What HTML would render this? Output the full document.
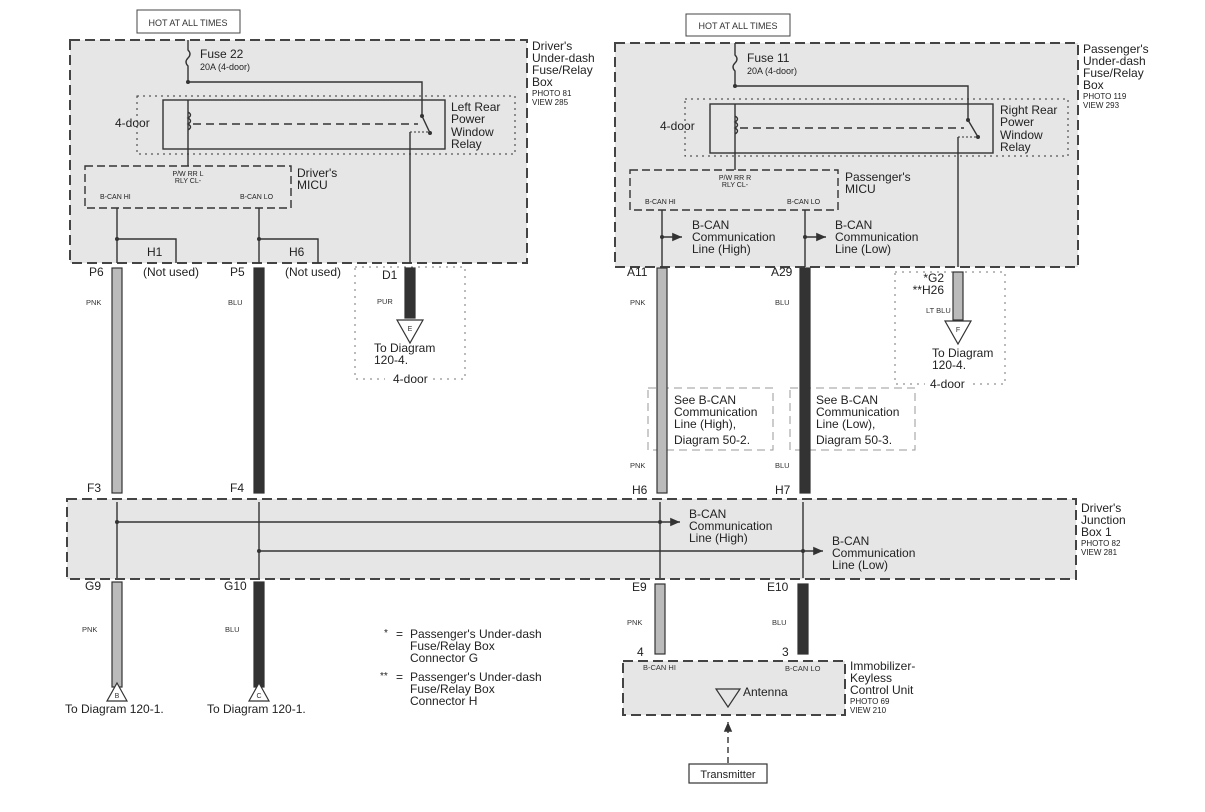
<!DOCTYPE html>
<html><head><meta charset="utf-8"><style>
html,body{margin:0;padding:0;background:#fff;}
svg{display:block;font-family:"Liberation Sans",sans-serif;}
</style></head><body>
<svg width="1205" height="812" viewBox="0 0 1205 812" xmlns="http://www.w3.org/2000/svg">
<defs>
<marker id="af" markerWidth="8" markerHeight="8" refX="7" refY="4" orient="auto"><path d="M0,1 L7,4 L0,7 Z" fill="#333"/></marker>
</defs>
<rect width="1205" height="812" fill="#fff"/>
<rect x="70" y="40" width="457" height="223" fill="#e6e6e6" stroke="#444" stroke-width="2" stroke-dasharray="10,5"/>
<rect x="615" y="43" width="463" height="224" fill="#e6e6e6" stroke="#444" stroke-width="2" stroke-dasharray="10,5"/>
<rect x="67" y="499" width="1009" height="80" fill="#e6e6e6" stroke="#444" stroke-width="2" stroke-dasharray="10,5"/>
<rect x="623" y="661" width="222" height="54" fill="#e6e6e6" stroke="#444" stroke-width="2" stroke-dasharray="10,5"/>
<rect x="137" y="10" width="103" height="23" fill="#fff" stroke="#444"/>
<text x="188" y="26" font-size="9" text-anchor="middle" fill="#333">HOT AT ALL TIMES</text>
<rect x="686" y="14" width="104" height="22" fill="#fff" stroke="#444"/>
<text x="738" y="29" font-size="9" text-anchor="middle" fill="#333">HOT AT ALL TIMES</text>
<g stroke="#333" stroke-width="1.4" fill="none">
<path d="M188,40 V50 q4,4 0,8 q-4,4 0,8 V82 H422 V100"/>
<rect x="163" y="100" width="282" height="49"/>
<rect x="137" y="96" width="378" height="58" stroke-dasharray="2,4" stroke-width="1"/>
<path d="M188,100 V149 M188,112 q5,3 0,6 q5,3 0,6 q5,3 0,6"/>
<path d="M193,124 H418" stroke-dasharray="8,5"/>
<path d="M422,100 V116 L430,133"/>
<path d="M410,132 H430" stroke-dasharray="2,2" stroke-width="1"/>
<path d="M410,132 V263 M188,149 V166"/>
<rect x="85" y="166" width="206" height="42" stroke-dasharray="8,4"/>
<path d="M117,208 V263 M117,239 H176 V263 M259,208 V263 M259,239 H318 V263"/>
<path d="M735,43 V55 q4,4 0,8 q-4,4 0,8 V86 H968 V104"/>
<rect x="710" y="104" width="283" height="49"/>
<rect x="685" y="99" width="383" height="57" stroke-dasharray="2,4" stroke-width="1"/>
<path d="M735,104 V153 M735,116 q5,3 0,6 q5,3 0,6 q5,3 0,6"/>
<path d="M740,128 H964" stroke-dasharray="8,5"/>
<path d="M968,104 V120 L978,137"/>
<path d="M958,137 H978" stroke-dasharray="2,2" stroke-width="1"/>
<path d="M958,137 V267 M735,153 V170"/>
<rect x="630" y="170" width="208" height="40" stroke-dasharray="8,4"/>
<path d="M662,210 V267 M805,210 V267"/>
<path d="M662,237 H682" marker-end="url(#af)"/>
<path d="M805,237 H826" marker-end="url(#af)"/>
<path d="M117,502 V578 M259,502 V578 M660,502 V578 M803,502 V578"/>
<path d="M117,522 H680" marker-end="url(#af)"/>
<path d="M259,551 H823" marker-end="url(#af)"/>
<rect x="355" y="267" width="110" height="112" stroke="#777" stroke-dasharray="2,5" stroke-width="1"/>
<rect x="895" y="272" width="110" height="112" stroke="#777" stroke-dasharray="2,5" stroke-width="1"/>
<rect x="648" y="388" width="125" height="62" stroke="#999" stroke-dasharray="8,5" stroke-width="1"/>
<rect x="790" y="388" width="125" height="62" stroke="#999" stroke-dasharray="8,5" stroke-width="1"/>
<path d="M728,763 V722" stroke-dasharray="6,4" marker-end="url(#af)"/>
</g>
<g fill="#333"><circle cx="188" cy="82" r="2"/><circle cx="117" cy="239" r="2"/><circle cx="259" cy="239" r="2"/><circle cx="735" cy="86" r="2"/><circle cx="662" cy="237" r="2"/><circle cx="805" cy="237" r="2"/><circle cx="117" cy="522" r="2"/><circle cx="259" cy="551" r="2"/><circle cx="660" cy="522" r="2"/><circle cx="803" cy="551" r="2"/><circle cx="422" cy="116" r="2"/><circle cx="430" cy="133" r="2"/><circle cx="968" cy="120" r="2"/><circle cx="978" cy="137" r="2"/></g>
<rect x="385" y="373" width="45" height="12" fill="#fff"/>
<rect x="925" y="377" width="45" height="12" fill="#fff"/>
<g stroke="#333" stroke-width="1.2">
<rect x="112" y="268" width="10" height="225" fill="#bbb"/>
<rect x="254" y="268" width="10" height="225" fill="#333"/>
<rect x="405" y="268" width="10" height="50" fill="#333"/>
<rect x="657" y="268" width="10" height="225" fill="#bbb"/>
<rect x="800" y="268" width="10" height="225" fill="#333"/>
<rect x="953" y="272" width="10" height="48" fill="#bbb"/>
<rect x="112" y="582" width="10" height="105" fill="#bbb"/>
<rect x="254" y="582" width="10" height="105" fill="#333"/>
<rect x="655" y="584" width="10" height="70" fill="#bbb"/>
<rect x="798" y="584" width="10" height="70" fill="#333"/>
<path d="M397,320 H423 L410,343 Z" fill="#fff"/>
<path d="M945,321 H971 L958,344 Z" fill="#fff"/>
<path d="M117,683 L127,701 H107 Z" fill="#fff"/>
<path d="M259,683 L269,701 H249 Z" fill="#fff"/>
<path d="M716,689 H740 L728,707 Z" fill="none"/>
<rect x="689" y="764" width="78" height="19" fill="#fff"/>
</g>
<g font-size="7" fill="#333" text-anchor="middle">
<text x="410" y="331">E</text><text x="958" y="332">F</text><text x="117" y="698">B</text><text x="259" y="698">C</text>
</g>
<g fill="#222" font-size="12">
<text x="200" y="58">Fuse 22</text><text x="200" y="70" font-size="9">20A (4-door)</text>
<text x="747" y="62">Fuse 11</text><text x="747" y="74" font-size="9">20A (4-door)</text>
<text x="115" y="127">4-door</text><text x="660" y="130">4-door</text>
<text x="451" y="111">Left Rear</text><text x="451" y="123">Power</text><text x="451" y="136">Window</text><text x="451" y="148">Relay</text>
<text x="1000" y="114">Right Rear</text><text x="1000" y="126">Power</text><text x="1000" y="139">Window</text><text x="1000" y="151">Relay</text>
<text x="532" y="50">Driver's</text><text x="532" y="62">Under-dash</text><text x="532" y="74">Fuse/Relay</text><text x="532" y="86">Box</text>
<text x="532" y="96" font-size="8">PHOTO 81</text><text x="532" y="105" font-size="8">VIEW 285</text>
<text x="1083" y="53">Passenger's</text><text x="1083" y="65">Under-dash</text><text x="1083" y="77">Fuse/Relay</text><text x="1083" y="89">Box</text>
<text x="1083" y="99" font-size="8">PHOTO 119</text><text x="1083" y="108" font-size="8">VIEW 293</text>
<text x="297" y="177">Driver's</text><text x="297" y="189">MICU</text>
<text x="845" y="181">Passenger's</text><text x="845" y="193">MICU</text>
<text x="188" y="176" font-size="7" text-anchor="middle">P/W RR L</text><text x="188" y="183" font-size="7" text-anchor="middle">RLY CL-</text>
<text x="735" y="180" font-size="7" text-anchor="middle">P/W RR R</text><text x="735" y="187" font-size="7" text-anchor="middle">RLY CL-</text>
<text x="100" y="199" font-size="7">B-CAN HI</text><text x="240" y="199" font-size="7">B-CAN LO</text>
<text x="645" y="204" font-size="7">B-CAN HI</text><text x="787" y="204" font-size="7">B-CAN LO</text>
<text x="692" y="229">B-CAN</text><text x="692" y="241">Communication</text><text x="692" y="253">Line (High)</text>
<text x="835" y="229">B-CAN</text><text x="835" y="241">Communication</text><text x="835" y="253">Line (Low)</text>
<text x="147" y="256">H1</text><text x="289" y="256">H6</text>
<text x="89" y="276">P6</text><text x="230" y="276">P5</text>
<text x="143" y="276">(Not used)</text><text x="285" y="276">(Not used)</text>
<text x="382" y="279">D1</text><text x="627" y="276">A11</text><text x="771" y="276">A29</text>
<text x="944" y="282" text-anchor="end">*G2</text><text x="944" y="294" text-anchor="end">**H26</text>
<text x="374" y="352">To Diagram</text><text x="374" y="364">120-4.</text><text x="393" y="383">4-door</text>
<text x="932" y="357">To Diagram</text><text x="932" y="369">120-4.</text><text x="930" y="388">4-door</text>
<text x="674" y="404">See B-CAN</text><text x="674" y="416">Communication</text><text x="674" y="428">Line (High),</text><text x="674" y="444">Diagram 50-2.</text>
<text x="816" y="404">See B-CAN</text><text x="816" y="416">Communication</text><text x="816" y="428">Line (Low),</text><text x="816" y="444">Diagram 50-3.</text>
<text x="87" y="492">F3</text><text x="230" y="492">F4</text><text x="632" y="494">H6</text><text x="775" y="494">H7</text>
<text x="689" y="518">B-CAN</text><text x="689" y="530">Communication</text><text x="689" y="542">Line (High)</text>
<text x="832" y="545">B-CAN</text><text x="832" y="557">Communication</text><text x="832" y="569">Line (Low)</text>
<text x="1081" y="512">Driver's</text><text x="1081" y="524">Junction</text><text x="1081" y="536">Box 1</text>
<text x="1081" y="546" font-size="8">PHOTO 82</text><text x="1081" y="555" font-size="8">VIEW 281</text>
<text x="85" y="590">G9</text><text x="224" y="590">G10</text><text x="632" y="591">E9</text><text x="767" y="591">E10</text>
<text x="637" y="656">4</text><text x="782" y="656">3</text>
<text x="65" y="713">To Diagram 120-1.</text><text x="207" y="713">To Diagram 120-1.</text>
<text x="384" y="636" font-size="10">*</text><text x="396" y="638">=</text>
<text x="410" y="638">Passenger's Under-dash</text><text x="410" y="650">Fuse/Relay Box</text><text x="410" y="662">Connector G</text>
<text x="380" y="679" font-size="10">**</text><text x="396" y="681">=</text>
<text x="410" y="681">Passenger's Under-dash</text><text x="410" y="693">Fuse/Relay Box</text><text x="410" y="705">Connector H</text>
<text x="743" y="696">Antenna</text>
<text x="850" y="670">Immobilizer-</text><text x="850" y="682">Keyless</text><text x="850" y="694">Control Unit</text>
<text x="850" y="704" font-size="8">PHOTO 69</text><text x="850" y="713" font-size="8">VIEW 210</text>
<text x="728" y="778" text-anchor="middle" font-size="11">Transmitter</text>
</g>
<g fill="#333" font-size="7.5">
<text x="86" y="305">PNK</text><text x="228" y="305">BLU</text><text x="377" y="304">PUR</text>
<text x="630" y="305">PNK</text><text x="775" y="305">BLU</text><text x="926" y="313">LT BLU</text>
<text x="630" y="468">PNK</text><text x="775" y="468">BLU</text>
<text x="82" y="632">PNK</text><text x="225" y="632">BLU</text>
<text x="627" y="625">PNK</text><text x="772" y="625">BLU</text>
<text x="643" y="670">B-CAN HI</text><text x="785" y="671">B-CAN LO</text>
</g>
</svg>
</body></html>
